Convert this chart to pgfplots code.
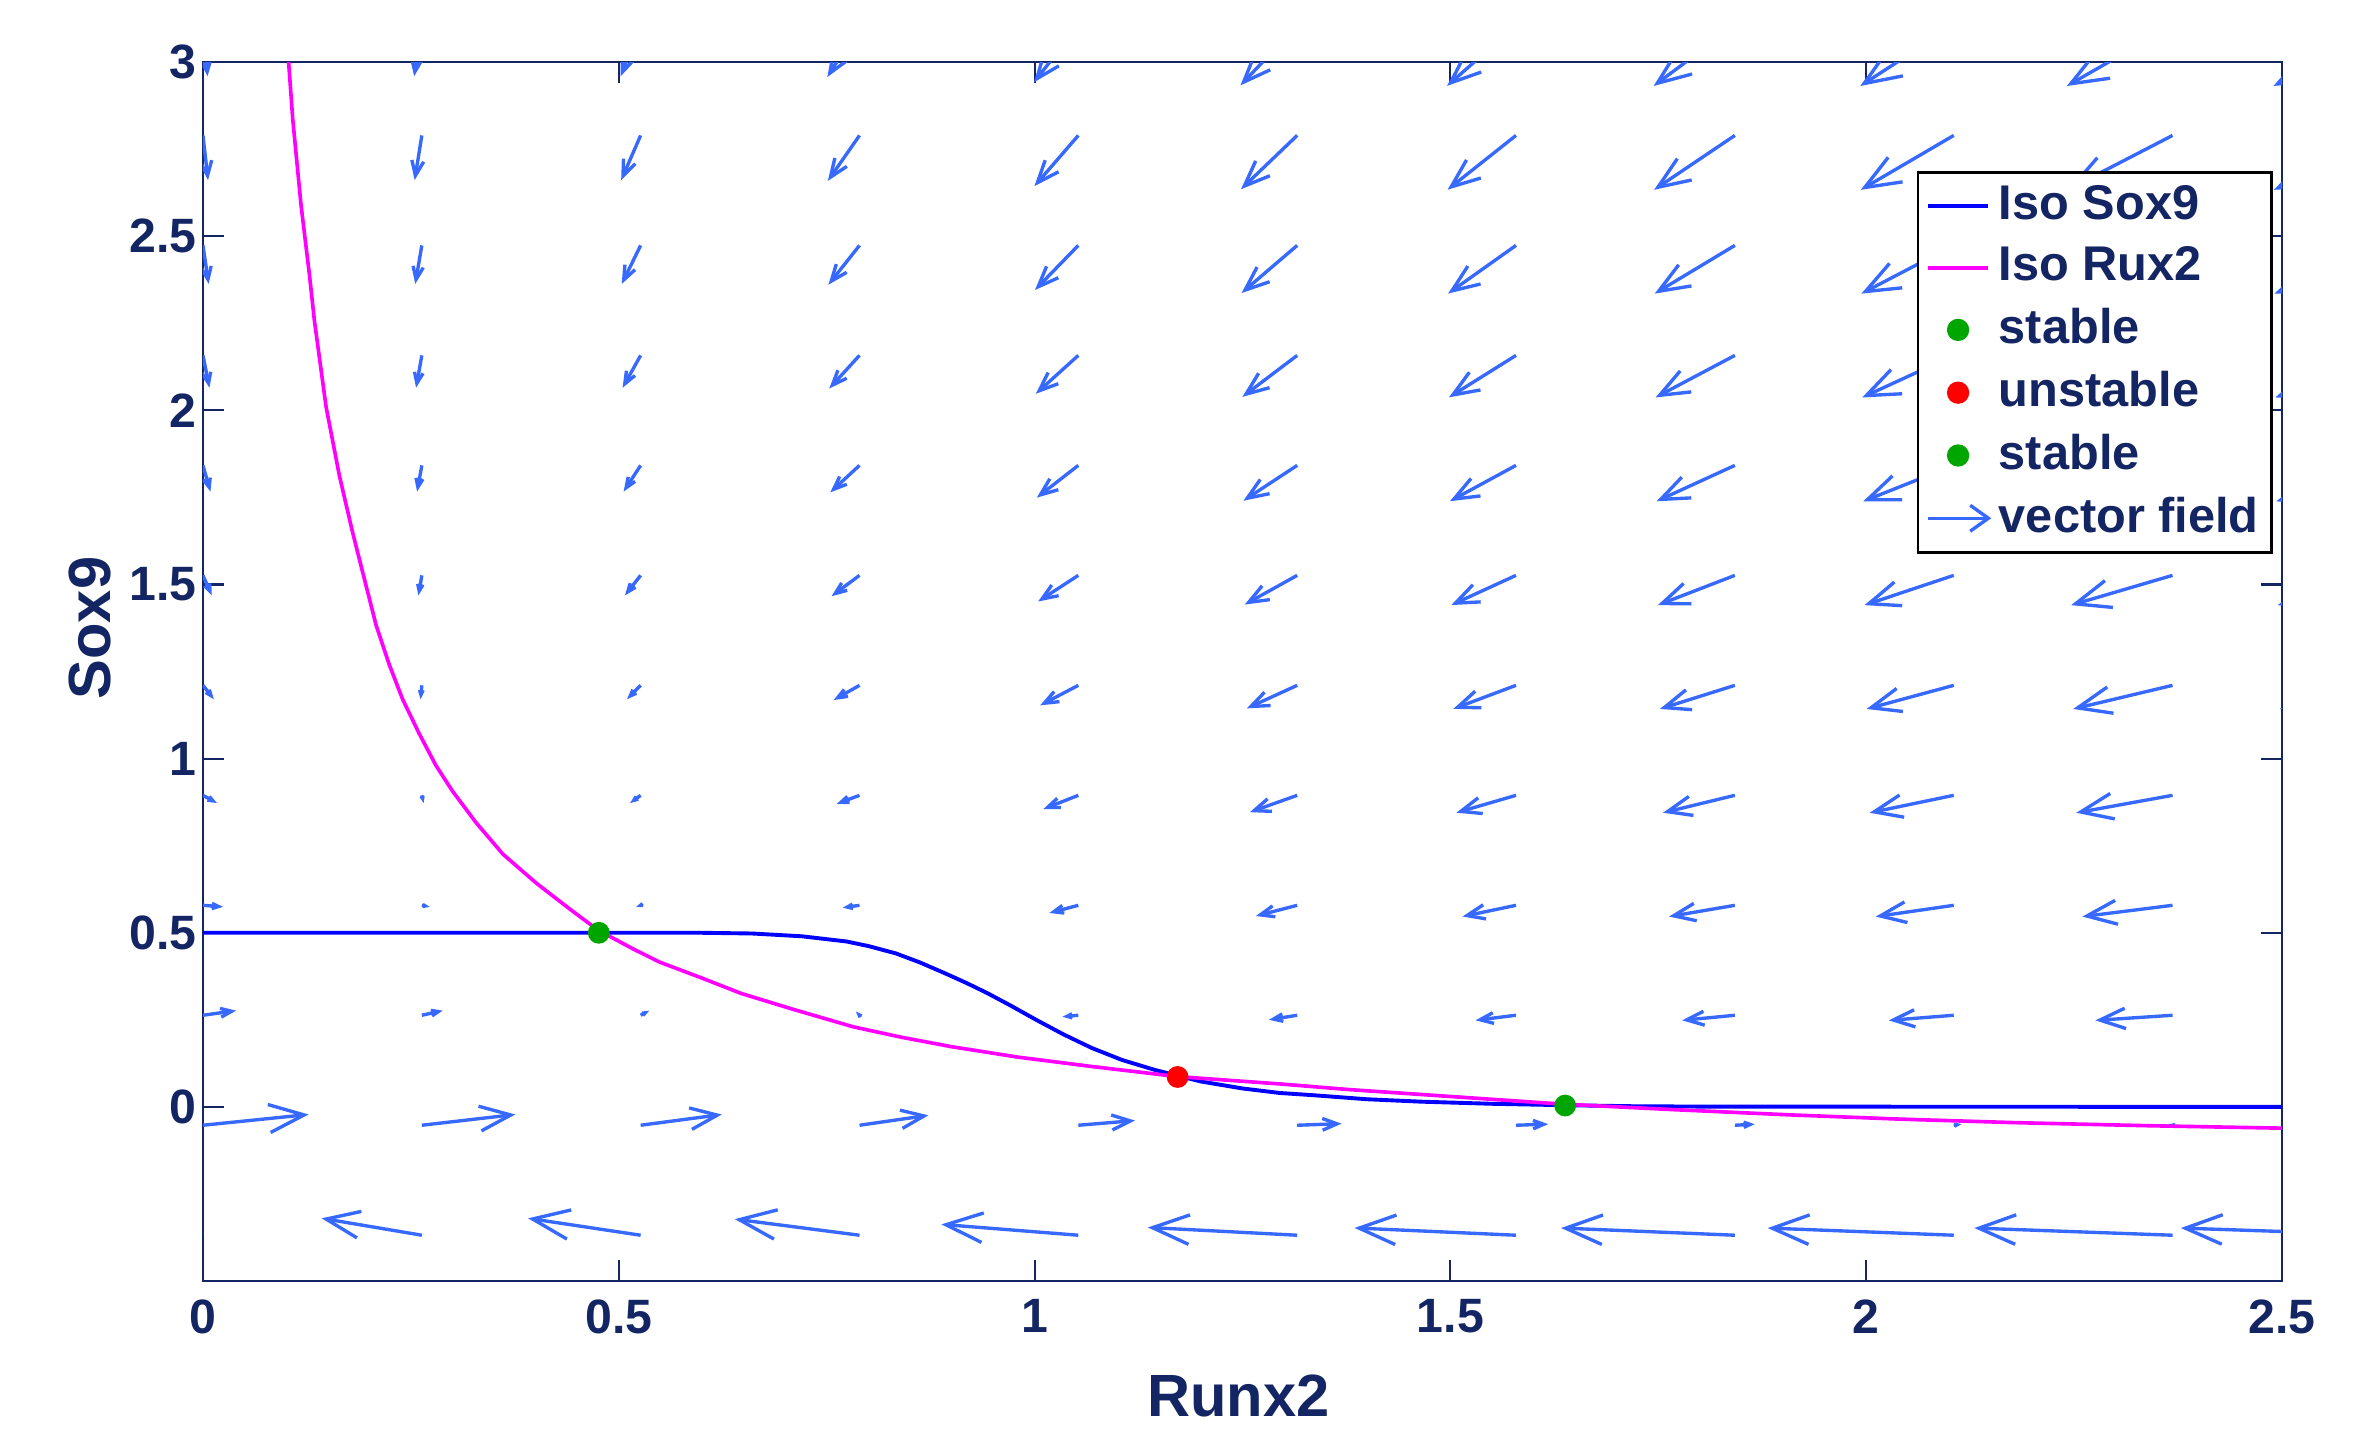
\documentclass[border=0pt]{standalone}
\usepackage{fontspec}
\setmainfont{Liberation Sans}
\usepackage{pgfplots}
\usepackage{pgfplotstable}
\pgfplotsset{compat=1.18}
\usetikzlibrary{arrows.meta}

\definecolor{navy}{RGB}{19,37,99}
\definecolor{qcol}{RGB}{55,105,255}
\definecolor{dotgreen}{RGB}{0,165,0}
\definecolor{isoblue}{RGB}{0,0,255}
\definecolor{isomag}{RGB}{255,0,255}

% vector field: tail (x,y) and drawn components (u,v)
\pgfplotstableread{
x y u v
0 -0.3684 -0.1058 0.0486
0.2632 -0.3684 -0.1205 0.0486
0.5263 -0.3684 -0.1353 0.0485
0.7895 -0.3684 -0.1500 0.0462
1.0526 -0.3684 -0.1647 0.0311
1.3158 -0.3684 -0.1795 0.0223
1.5789 -0.3684 -0.1942 0.0209
1.8421 -0.3684 -0.2090 0.0207
2.1053 -0.3684 -0.2237 0.0206
2.3684 -0.3684 -0.2384 0.0206
2.6316 -0.3684 -0.2532 0.0206
0 -0.0526 0.1271 0.0309
0.2632 -0.0526 0.1124 0.0309
0.5263 -0.0526 0.0976 0.0308
0.7895 -0.0526 0.0829 0.0285
1.0526 -0.0526 0.0682 0.0134
1.3158 -0.0526 0.0534 0.0046
1.5789 -0.0526 0.0387 0.0032
1.8421 -0.0526 0.0239 0.0030
2.1053 -0.0526 0.0092 0.0029
2.3684 -0.0526 -0.0055 0.0029
2.6316 -0.0526 -0.0203 0.0029
0 0.2632 0.0398 0.0133
0.2632 0.2632 0.0251 0.0133
0.5263 0.2632 0.0103 0.0132
0.7895 0.2632 -0.0044 0.0109
1.0526 0.2632 -0.0191 -0.0042
1.3158 0.2632 -0.0339 -0.0130
1.5789 0.2632 -0.0486 -0.0144
1.8421 0.2632 -0.0634 -0.0146
2.1053 0.2632 -0.0781 -0.0147
2.3684 0.2632 -0.0928 -0.0147
2.6316 0.2632 -0.1076 -0.0147
0 0.5789 0.0241 -0.0044
0.2632 0.5789 0.0094 -0.0044
0.5263 0.5789 -0.0054 -0.0045
0.7895 0.5789 -0.0201 -0.0068
1.0526 0.5789 -0.0348 -0.0219
1.3158 0.5789 -0.0496 -0.0307
1.5789 0.5789 -0.0643 -0.0321
1.8421 0.5789 -0.0791 -0.0323
2.1053 0.5789 -0.0938 -0.0324
2.3684 0.5789 -0.1085 -0.0324
2.6316 0.5789 -0.1233 -0.0324
0 0.8947 0.0168 -0.0221
0.2632 0.8947 0.0021 -0.0221
0.5263 0.8947 -0.0127 -0.0222
0.7895 0.8947 -0.0274 -0.0245
1.0526 0.8947 -0.0421 -0.0396
1.3158 0.8947 -0.0569 -0.0484
1.5789 0.8947 -0.0716 -0.0498
1.8421 0.8947 -0.0864 -0.0500
2.1053 0.8947 -0.1011 -0.0501
2.3684 0.8947 -0.1158 -0.0501
2.6316 0.8947 -0.1306 -0.0501
0 1.2105 0.0131 -0.0398
0.2632 1.2105 -0.0016 -0.0398
0.5263 1.2105 -0.0164 -0.0399
0.7895 1.2105 -0.0311 -0.0422
1.0526 1.2105 -0.0458 -0.0573
1.3158 1.2105 -0.0606 -0.0661
1.5789 1.2105 -0.0753 -0.0675
1.8421 1.2105 -0.0901 -0.0677
2.1053 1.2105 -0.1048 -0.0678
2.3684 1.2105 -0.1195 -0.0678
2.6316 1.2105 -0.1343 -0.0678
0 1.5263 0.0106 -0.0575
0.2632 1.5263 -0.0041 -0.0575
0.5263 1.5263 -0.0189 -0.0576
0.7895 1.5263 -0.0336 -0.0599
1.0526 1.5263 -0.0483 -0.0750
1.3158 1.5263 -0.0631 -0.0838
1.5789 1.5263 -0.0778 -0.0852
1.8421 1.5263 -0.0926 -0.0854
2.1053 1.5263 -0.1073 -0.0855
2.3684 1.5263 -0.1220 -0.0855
2.6316 1.5263 -0.1368 -0.0855
0 1.8421 0.0090 -0.0752
0.2632 1.8421 -0.0057 -0.0752
0.5263 1.8421 -0.0205 -0.0753
0.7895 1.8421 -0.0352 -0.0776
1.0526 1.8421 -0.0499 -0.0927
1.3158 1.8421 -0.0647 -0.1015
1.5789 1.8421 -0.0794 -0.1029
1.8421 1.8421 -0.0942 -0.1031
2.1053 1.8421 -0.1089 -0.1032
2.3684 1.8421 -0.1236 -0.1032
2.6316 1.8421 -0.1384 -0.1032
0 2.1579 0.0078 -0.0928
0.2632 2.1579 -0.0069 -0.0928
0.5263 2.1579 -0.0217 -0.0929
0.7895 2.1579 -0.0364 -0.0952
1.0526 2.1579 -0.0511 -0.1103
1.3158 2.1579 -0.0659 -0.1191
1.5789 2.1579 -0.0806 -0.1205
1.8421 2.1579 -0.0954 -0.1207
2.1053 2.1579 -0.1101 -0.1208
2.3684 2.1579 -0.1248 -0.1208
2.6316 2.1579 -0.1396 -0.1208
0 2.4737 0.0068 -0.1105
0.2632 2.4737 -0.0079 -0.1105
0.5263 2.4737 -0.0227 -0.1106
0.7895 2.4737 -0.0374 -0.1129
1.0526 2.4737 -0.0521 -0.1280
1.3158 2.4737 -0.0669 -0.1368
1.5789 2.4737 -0.0816 -0.1382
1.8421 2.4737 -0.0964 -0.1384
2.1053 2.4737 -0.1111 -0.1385
2.3684 2.4737 -0.1258 -0.1385
2.6316 2.4737 -0.1406 -0.1385
0 2.7895 0.0061 -0.1282
0.2632 2.7895 -0.0086 -0.1282
0.5263 2.7895 -0.0234 -0.1283
0.7895 2.7895 -0.0381 -0.1306
1.0526 2.7895 -0.0528 -0.1457
1.3158 2.7895 -0.0676 -0.1545
1.5789 2.7895 -0.0823 -0.1559
1.8421 2.7895 -0.0971 -0.1561
2.1053 2.7895 -0.1118 -0.1562
2.3684 2.7895 -0.1265 -0.1562
2.6316 2.7895 -0.1413 -0.1562
0 3.1053 0.0055 -0.1459
0.2632 3.1053 -0.0092 -0.1459
0.5263 3.1053 -0.0240 -0.1460
0.7895 3.1053 -0.0387 -0.1483
1.0526 3.1053 -0.0534 -0.1634
1.3158 3.1053 -0.0682 -0.1722
1.5789 3.1053 -0.0829 -0.1736
1.8421 3.1053 -0.0977 -0.1738
2.1053 3.1053 -0.1124 -0.1739
2.3684 3.1053 -0.1271 -0.1739
2.6316 3.1053 -0.1419 -0.1739
}\vecdata

\pgfplotsset{vecleg/.style={legend image code/.code={\draw[qcol,line width=0.65pt,-{Straight Barb[length=3.5pt,width=5pt]}] (0cm,0cm) -- (0.43cm,0cm);}}}

\begin{document}
\begin{tikzpicture}
\path[use as bounding box] (-1.376cm,-1.017cm) rectangle (14.624cm,8.685cm);
\begin{axis}[
    at={(0,0)}, anchor=south west,
    width=14.095cm, height=8.264cm, scale only axis,
    xmin=0, xmax=2.5, ymin=-0.5, ymax=3,
    xtick={0,0.5,1,1.5,2,2.5},
    ytick={0,0.5,1,1.5,2,2.5,3},
    tick align=inside,
    major tick length=0.142cm,
    axis line style={navy, line width=0.5pt},
    tick style={navy, line width=0.4pt},
    /pgf/number format/assume math mode=true,
    tick label style={font=\bfseries\fontsize{9.3}{11}\selectfont, text=navy},
    yticklabel style={inner xsep=1pt},
    xlabel={Runx2}, ylabel={Sox9},
    every axis x label/.style={at={(rel axis cs:0.498,-0.1107)}, anchor=base,
        font=\bfseries\fontsize{11.5}{14}\selectfont, text=navy},
    every axis y label/.style={at={(rel axis cs:-0.0447,0.5357)}, rotate=90, anchor=base,
        font=\bfseries\fontsize{11.5}{14}\selectfont, text=navy},
    point meta min=0, point meta max=2,
    legend style={at={(rel axis cs:0.9957,0.9106)}, anchor=north east,
        draw=black, line width=0.5pt, fill=white,
        font=\bfseries\fontsize{9.4}{11.3}\selectfont, text=navy,
        inner xsep=1.5pt, inner ysep=1.5pt, row sep=1.8pt,
        nodes={inner sep=1pt, text depth=0.15em}},
    legend cell align=left,
    legend image code/.code={\draw[mark repeat=2,mark phase=2,#1] plot coordinates {(0cm,0cm) (0.205cm,0cm) (0.41cm,0cm)};},
]

% vector field, arrow heads scaled with the drawn length (cm)
\addplot[qcol, line width=0.65pt, forget plot,
    point meta={sqrt((5.638*\thisrow{u})^2+(2.361*\thisrow{v})^2)},
    quiver={u=\thisrow{u}, v=\thisrow{v},
        every arrow/.append style={
            /utils/exec={\pgfmathsetmacro\hl{max(0.5,min(0.33*\pgfplotspointmetatransformed/500,0.25)*28.45)}\pgfmathsetmacro\hw{0.8*\hl}},
            -{Straight Barb[length=\hl pt, width=\hw pt]}}},
] table {\vecdata};

% Sox9 nullcline
\addplot[isoblue, line width=0.75pt] coordinates {
(0,0.5) (0.60,0.5) (0.66,0.498) (0.72,0.49) (0.774,0.475) (0.80,0.462)
(0.833,0.441) (0.862,0.415) (0.892,0.384) (0.918,0.356) (0.943,0.327)
(0.972,0.29) (1.002,0.25) (1.035,0.208) (1.069,0.169) (1.105,0.135)
(1.145,0.106) (1.2,0.073) (1.25,0.053) (1.295,0.040) (1.333,0.034)
(1.40,0.022) (1.466,0.015) (1.55,0.009) (1.635,0.005) (1.72,0.002)
(1.80,0.001) (2.5,0)
};
\addlegendentry{Iso Sox9}

% Runx2 nullcline
\addplot[isomag, line width=0.7pt] coordinates {
(0.103,3.0) (0.108,2.835) (0.118,2.588) (0.128,2.39) (0.134,2.258)
(0.148,2.011) (0.164,1.813) (0.180,1.649) (0.194,1.517) (0.208,1.385)
(0.224,1.270) (0.240,1.171) (0.260,1.072) (0.280,0.981) (0.300,0.907)
(0.3285,0.816) (0.3606,0.726) (0.4006,0.643) (0.4407,0.569) (0.4748,0.508)
(0.517,0.454) (0.549,0.416) (0.60,0.37) (0.647,0.326) (0.71,0.28)
(0.782,0.23) (0.84,0.20) (0.90,0.173) (0.98,0.143) (1.069,0.116)
(1.172,0.087) (1.295,0.066) (1.377,0.050) (1.50,0.03) (1.635,0.008)
(1.77,-0.008) (1.91,-0.023) (2.04,-0.035) (2.177,-0.045) (2.34,-0.054)
(2.5,-0.061)
};
\addlegendentry{Iso Rux2}

\addplot[only marks, mark=*, mark size=1.9pt, draw=dotgreen, fill=dotgreen] coordinates {(0.476,0.5)};
\addlegendentry{stable}
\addplot[only marks, mark=*, mark size=1.9pt, draw=red, fill=red] coordinates {(1.172,0.086)};
\addlegendentry{unstable}
\addplot[only marks, mark=*, mark size=1.9pt, draw=dotgreen, fill=dotgreen] coordinates {(1.638,0.004)};
\addlegendentry{stable}

\addlegendimage{vecleg}
\addlegendentry{vector field}
\end{axis}
\end{tikzpicture}
\end{document}
